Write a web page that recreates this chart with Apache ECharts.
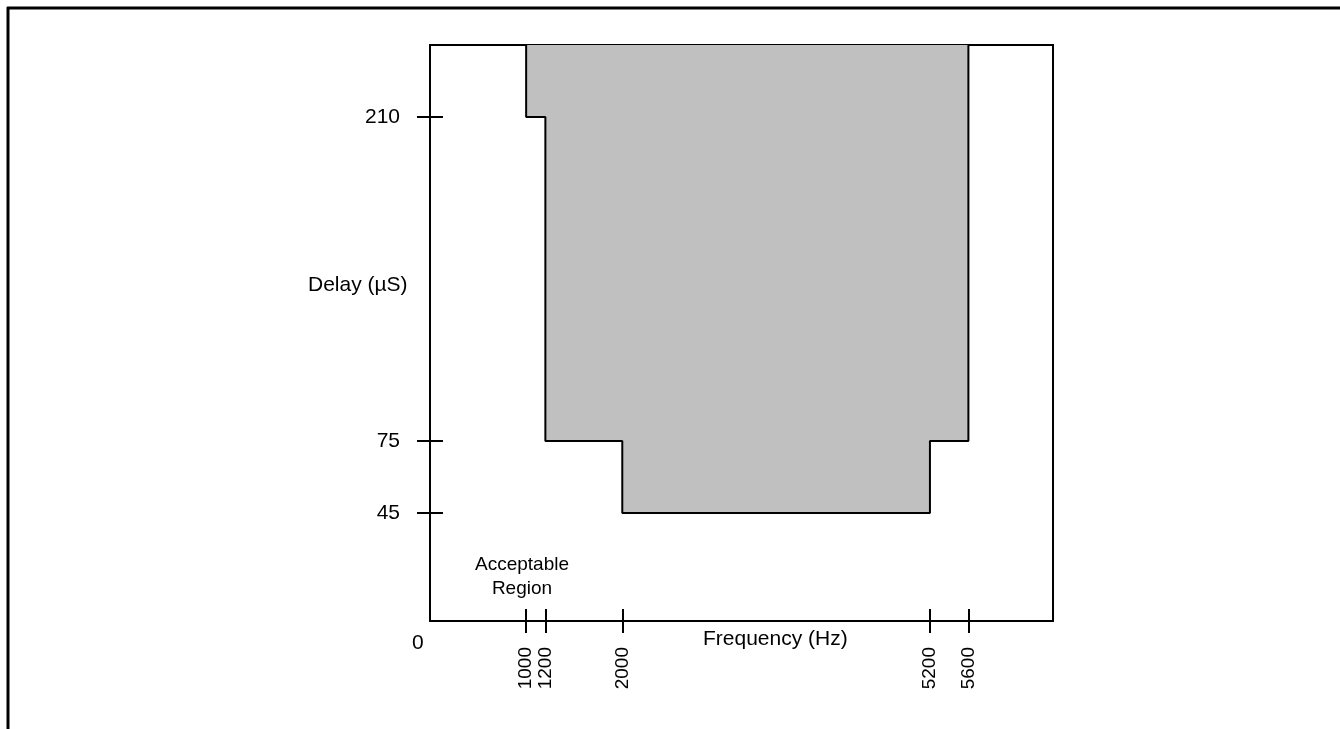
<!DOCTYPE html>
<html><head><meta charset="utf-8">
<script src="https://cdn.jsdelivr.net/npm/echarts@6/dist/echarts.min.js"></script>
<style>html,body{margin:0;padding:0;background:#fff}#c{width:1340px;height:729px}</style>
</head><body><div id="c"></div>
<script>
var freqTicks = [1000, 1200, 2000, 5200, 5600];
var delayTicks = [45, 75, 210];
var boundaryFreq = [1000, 1000, 1200, 1200, 2000, 2000, 5200, 5200, 5600, 5600];
var boundaryDelay = [240, 210, 210, 75, 75, 45, 45, 75, 75, 240];
var xMax = 6480, yMax = 240;

var pts = boundaryFreq.map(function(f, i){ return [f, boundaryDelay[i]]; });
var font = 'Liberation Sans, Arial, sans-serif';
var fs = 21;
var chart = echarts.init(document.getElementById('c'), null, {renderer:'canvas'});
function xa(inside, labels){
  return {type:'value', min:0, max:xMax, position:'bottom',
    axisLine:{show:true, lineStyle:{color:'#000', width:2}},
    axisTick:{show:true, inside:inside, length:12, customValues:freqTicks, lineStyle:{color:'#000', width:2}},
    axisLabel:{show:labels, customValues:freqTicks, rotate:90, margin:26, hideOverlap:false, color:'#000', fontSize:19, fontFamily:font,
      formatter:function(v){ return String(v); }},
    splitLine:{show:false}};
}
function ya(inside, labels){
  return {type:'value', min:0, max:yMax, position:'left',
    axisLine:{show:true, lineStyle:{color:'#000', width:2}},
    axisTick:{show:true, inside:inside, length:13, customValues:delayTicks, lineStyle:{color:'#000', width:2}},
    axisLabel:{show:labels, customValues:delayTicks, margin:30, hideOverlap:false, color:'#000', fontSize:fs, fontFamily:font,
      formatter:function(v){ return String(v); }},
    splitLine:{show:false}};
}
chart.setOption({
  animation:false,
  grid:{left:430, top:45, width:623, height:576, show:true, borderColor:'#000', borderWidth:2, backgroundColor:'transparent'},
  xAxis:[xa(false,true), xa(true,false)],
  yAxis:[ya(false,true), ya(true,false)],
  series:[{type:'line', xAxisIndex:0, yAxisIndex:0, data:pts, symbol:'none',
    lineStyle:{color:'#000', width:2}, areaStyle:{origin:'end', color:'#c0c0c0', opacity:1}, z:1}],
  graphic:[
    {type:'line', shape:{x1:7, y1:8, x2:1340, y2:8}, style:{stroke:'#000', lineWidth:3}},
    {type:'line', shape:{x1:8, y1:7, x2:8, y2:729}, style:{stroke:'#000', lineWidth:3}},
    {type:'text', left:412, top:633, style:{text:'0', fill:'#000', font:fs+'px '+font}},
    {type:'text', left:308, top:275, style:{text:'Delay (µS)', fill:'#000', font:fs+'px '+font}},
    {type:'text', left:475, top:553, style:{text:'Acceptable\nRegion', fill:'#000', font:'19px '+font, align:'center', textAlign:'center', lineHeight:24}},
    {type:'text', left:703, top:629, style:{text:'Frequency (Hz)', fill:'#000', font:fs+'px '+font}}
  ]
});
</script></body></html>
